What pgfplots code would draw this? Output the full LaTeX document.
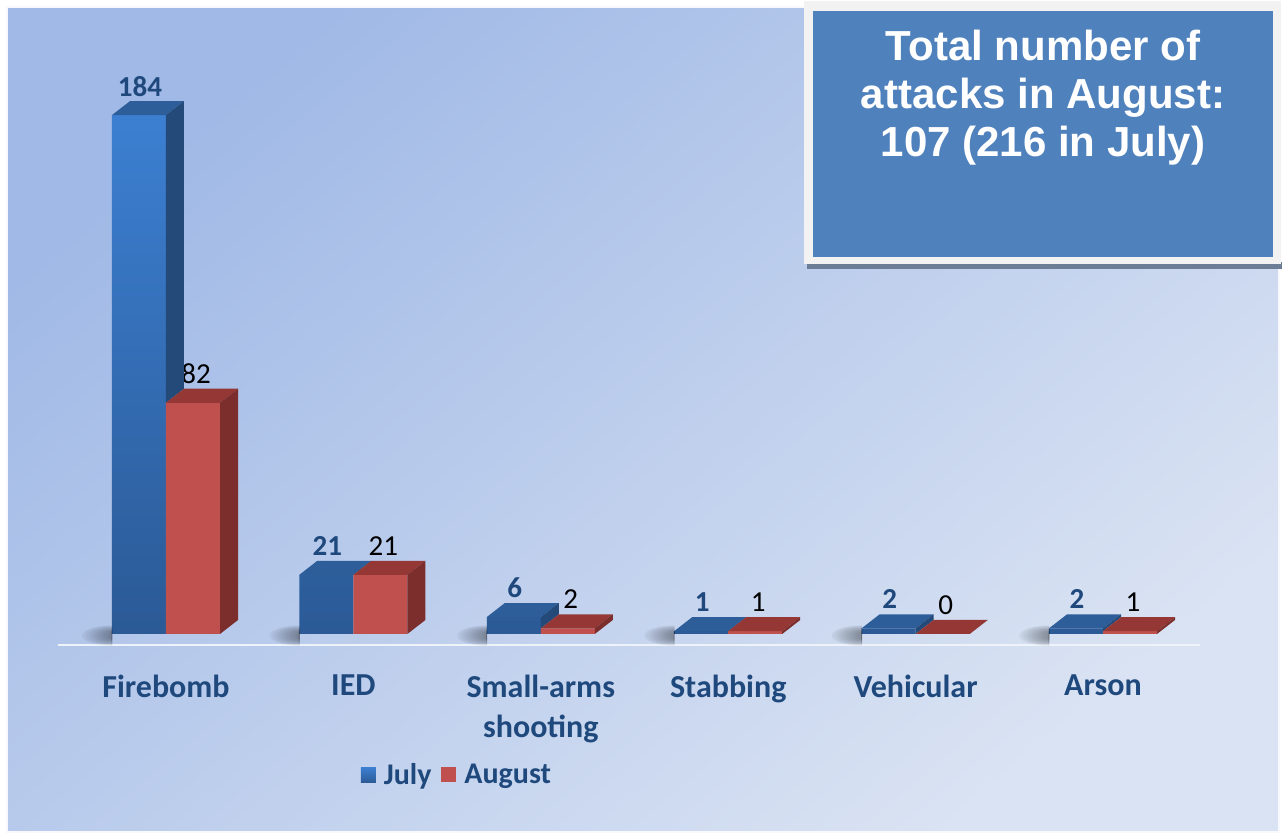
\documentclass[border=0pt]{standalone}
\usepackage{fontspec}
\setmainfont{Carlito}
\newfontfamily\arialb{Liberation Sans}[BoldFont={* Bold}]
\usepackage{pgfplots}
\usepackage{pgfplotstable}
\pgfplotsset{compat=1.18}
\definecolor{bgA}{HTML}{A0B9E6}
\definecolor{bgB}{HTML}{DAE3F3}
\definecolor{lbl}{HTML}{1F497D}
\definecolor{jTopC}{HTML}{3C7FD1}
\definecolor{jBotC}{HTML}{2B5A96}
\definecolor{jTop}{HTML}{2D5E99}
\definecolor{jSide}{HTML}{244A7A}
\definecolor{aFront}{HTML}{C0504D}
\definecolor{aTop}{HTML}{953735}
\definecolor{aSide}{HTML}{7B2E2C}
\definecolor{boxblue}{HTML}{4F81BD}
\pgfdeclareplotmark{empty}{}
\pgfplotstableread{
x july aug
0 184 82
1 21 21
2 6 2
3 1 1
4 2 0
5 2 1
}\attacks
\begin{document}
\begin{tikzpicture}
\begin{scope}[x=0.5pt,y=-0.5pt,yshift=420pt]
  \fill[white] (0,0) rectangle (1282,840);
  \shade[top color=bgA, bottom color=bgB, shading angle=40] (7,7) rectangle (1279,832);
  \draw[white!80!bgB, line width=1pt] (7,7) rectangle (1279,832);
  % text box
  \fill[black!45!boxblue!70!white] (807,262) rectangle (1282,269);
  \fill[black!5] (804,1) rectangle (1281,264);
  \fill[boxblue] (813,11) rectangle (1273,257);
  \node[text=white, font=\arialb\bfseries\fontsize{21pt}{24pt}\selectfont, align=center, anchor=north] at (1043,23) {Total number of\\attacks in August:\\107 (216 in July)};
  % baseline
  \draw[white!55!bgB, line width=1.2pt] (58,645) -- (1200,645);
\end{scope}
\begin{axis}[
  at={(36.15pt,103pt)}, anchor=south west,
  x=93.7pt, y=1.41pt,
  xmin=-0.5, xmax=5.5, ymin=0, ymax=200,
  enlargelimits=false, clip=false,
  /pgf/number format/assume math mode=true,
  axis line style={draw=none}, tick style={draw=none},
  ytick=\empty,
  xtick={0,...,5},
  xticklabels={Firebomb,IED,Small-arms\\shooting,Stabbing,Vehicular,Arson},
  xticklabel style={align=center, font=\bfseries\fontsize{16pt}{20pt}\selectfont, text=lbl, anchor=north, yshift=-17pt},
  legend style={at={(0.343,-0.25)}, anchor=center, legend columns=2, draw=none, fill=none,
    font=\bfseries\fontsize{15pt}{17pt}\selectfont, text=lbl,
    /tikz/every even column/.append style={column sep=3pt}},
  legend image code/.code={\fill[#1] (0pt,-3.75pt) rectangle (7.5pt,3.75pt); \path (9.5pt,0pt);},
]
% July front
\addplot[ybar, bar width=27pt, bar shift=-13.5pt, draw=none, top color=jTopC, bottom color=jBotC,
  nodes near coords, nodes near coords style={anchor=center, xshift=-13pt, yshift=14.5pt, text=lbl, font=\bfseries\fontsize{14.5pt}{16pt}\selectfont}]
  table[x=x, y=july] {\attacks};
\addlegendentry{July}
% August front
\addplot[ybar, bar width=27pt, bar shift=13.5pt, draw=none, fill=aFront,
  nodes near coords, nodes near coords style={anchor=center, xshift=15pt, yshift=14.5pt, text=black, font=\fontsize{14.5pt}{16pt}\selectfont}]
  table[x=x, y=aug] {\attacks};
\addlegendentry{August}
% July 3D faces (side only down to the August top, rest is hidden)
\addplot[forget plot, only marks, mark=empty, scatter,
  visualization depends on={\thisrow{july} \as \hv},
  visualization depends on={\thisrow{aug} \as \ha},
  scatter/@pre marker code/.code={%
    \pgfmathsetlengthmacro\hb{\hv*1.41pt}%
    \pgfmathsetlengthmacro\hh{max(0,\hv-\ha)*1.41pt}%
    \foreach \k in {1,...,12}{%
      \pgfmathsetmacro\r{16-1.2*\k}\pgfmathsetmacro\s{5.2-0.3*\k}%
      \fill[black, opacity=0.03] (-27pt,{-\hb+\s*1pt-0.8pt}) arc[start angle=90, end angle=270, x radius=\r*1pt, y radius=\s*1pt] -- cycle;}%
    \pgfsetfillcolor{jTop}%
    \pgfpathmoveto{\pgfqpoint{-27pt}{0pt}}%
    \pgfpathlineto{\pgfqpoint{0pt}{0pt}}%
    \pgfpathlineto{\pgfqpoint{9pt}{7pt}}%
    \pgfpathlineto{\pgfqpoint{-18pt}{7pt}}%
    \pgfpathclose\pgfusepath{fill}%
    \pgfsetfillcolor{jSide}%
    \pgfpathmoveto{\pgfqpoint{0pt}{0pt}}%
    \pgfpathlineto{\pgfqpoint{9pt}{7pt}}%
    \pgfpathlineto{\pgfpoint{9pt}{7pt-\hh}}%
    \pgfpathlineto{\pgfpoint{0pt}{-\hh}}%
    \pgfpathclose\pgfusepath{fill}%
  },
  scatter/@post marker code/.code={}]
  table[x=x, y=july] {\attacks};
% August 3D faces
\addplot[forget plot, only marks, mark=empty, scatter,
  visualization depends on={\thisrow{aug} \as \hv},
  scatter/@pre marker code/.code={%
    \pgfmathsetlengthmacro\hh{\hv*1.41pt}%
    \pgfsetfillcolor{aTop}%
    \pgfpathmoveto{\pgfqpoint{0pt}{0pt}}%
    \pgfpathlineto{\pgfqpoint{27pt}{0pt}}%
    \pgfpathlineto{\pgfqpoint{36pt}{7pt}}%
    \pgfpathlineto{\pgfqpoint{9pt}{7pt}}%
    \pgfpathclose\pgfusepath{fill}%
    \pgfsetfillcolor{aSide}%
    \pgfpathmoveto{\pgfqpoint{27pt}{0pt}}%
    \pgfpathlineto{\pgfqpoint{36pt}{7pt}}%
    \pgfpathlineto{\pgfpoint{36pt}{7pt-\hh}}%
    \pgfpathlineto{\pgfpoint{27pt}{-\hh}}%
    \pgfpathclose\pgfusepath{fill}%
  },
  scatter/@post marker code/.code={}]
  table[x=x, y=aug] {\attacks};
\end{axis}
\end{tikzpicture}
\end{document}
